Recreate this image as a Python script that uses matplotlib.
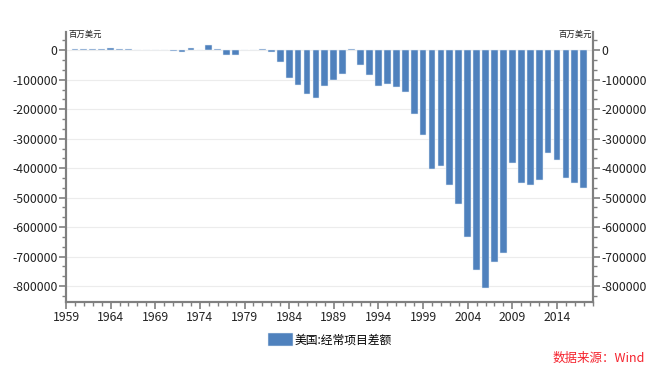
import matplotlib
matplotlib.use("Agg")
import matplotlib.pyplot as plt
from matplotlib.ticker import MultipleLocator

plt.rcParams['font.family'] = ['Noto Sans CJK SC', 'DejaVu Sans']

years = list(range(1960, 2018))
values = [2824, 3822, 3387, 4414, 6823, 5431, 3031, 2583, 611, 399,
          2331, -1433, -5795, 7140, 1962, 18116, 4295, -14335, -15143, -285,
          2317, 5030, -5536, -38691, -94344, -118155, -147177, -160655, -121153, -99486,
          -78969, 2897, -51613, -84806, -121612, -113567, -124764, -140726, -215062, -288000,
          -403000, -394120, -456123, -520000, -634000, -745434, -806726, -718643, -689000, -381000,
          -449471, -457726, -440417, -349543, -373800, -434598, -451685, -466200]
series_name = "美国:经常项目差额"
unit_label = "百万美元"
source_text = "数据来源：Wind"
x_ticks = list(range(1959, 2018, 5))
y_ticks = list(range(0, -800001, -100000))

fig = plt.figure(figsize=(6.6, 3.7), dpi=100)
ax = fig.add_axes([0.1, 0.1846, 0.798, 0.7297])
ax2 = ax.twinx()

gray = '#808080'
bars = ax.bar(years, values, width=0.76, color='#4F81BD', edgecolor='#e6edf6',
              linewidth=0.35, label=series_name, zorder=3)

ax.set_xlim(1959, 2018)
ax.set_ylim(-853000, 63000)
ax2.set_ylim(-853000, 63000)

for a in (ax, ax2):
    a.set_yticks(y_ticks)
    a.yaxis.set_minor_locator(MultipleLocator(100000 / 3))
    a.spines['top'].set_visible(False)
    for s in ('left', 'right', 'bottom'):
        a.spines[s].set_color(gray)
        a.spines[s].set_linewidth(1.5)
    a.tick_params(axis='y', which='major', length=5, width=1.2, color=gray,
                  labelsize=8.8, labelcolor='#222222', pad=1)
    a.tick_params(axis='y', which='minor', length=3, width=1.0, color=gray)

ax.set_yticklabels([str(v) for v in y_ticks])
ax2.set_yticklabels([str(v) for v in y_ticks])

ax.set_xticks(x_ticks)
ax.set_xticklabels([str(v) for v in x_ticks])
ax.xaxis.set_minor_locator(MultipleLocator(1))
ax.tick_params(axis='x', which='major', length=5, width=1.2, color=gray,
               labelsize=8.8, labelcolor='#222222', pad=2)
ax.tick_params(axis='x', which='minor', length=3, width=1.0, color=gray)

ax.grid(axis='y', which='major', color='#ececec', linewidth=0.8, zorder=0)
ax.set_axisbelow(True)

ax.text(0.004, 0.99, unit_label, transform=ax.transAxes, fontsize=6,
        ha='left', va='center', color='#222222')
ax.text(0.998, 0.99, unit_label, transform=ax.transAxes, fontsize=6,
        ha='right', va='center', color='#222222')

fig.legend(handles=[bars], labels=[series_name], loc='center',
           bbox_to_anchor=(0.5, 1 - 340 / 370), frameon=False, fontsize=8.5,
           handlelength=2.1, handleheight=1.2, handletextpad=0.1)

fig.text(645 / 660, 1 - 358 / 370, source_text, ha='right', va='center',
         fontsize=9, color='#f5222d', style='italic')

fig.savefig('out.png', dpi=100)
